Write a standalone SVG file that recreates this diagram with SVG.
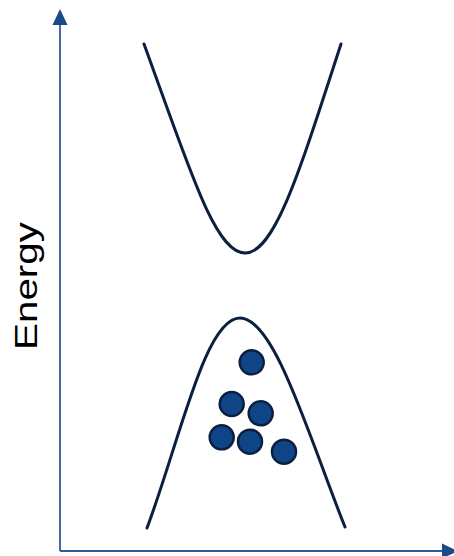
<svg xmlns="http://www.w3.org/2000/svg" width="454" height="556" viewBox="0 0 454 556">
<style>
.axis{stroke:#2F5A9A;stroke-width:1.8;fill:none}
.head{fill:#1A4A8A}
.band{stroke:#0B1F3F;stroke-width:3;fill:none;stroke-linecap:round}
.e{fill:#0F4487;stroke:#0B1F3F;stroke-width:2.5}
.lbl{font-family:"Liberation Sans",Arial,sans-serif;font-size:31px;fill:#000}
</style>
<rect width="454" height="556" fill="#fff"/>
<g id="connectors">
<line class="axis" x1="60" y1="551" x2="60" y2="22"/>
<polygon class="head" points="60,9 67.5,25 52.5,25"/>
<line class="axis" x1="60" y1="551" x2="445" y2="551"/>
<polygon class="head" points="458,551 442,543.5 442,558.5"/>
</g>
<g id="label">
<text class="lbl" transform="translate(37,286) rotate(-90)" text-anchor="middle" textLength="128" lengthAdjust="spacingAndGlyphs">Energy</text>
</g>
<g id="conduction-band">
<path class="band" d="M144,44 C190,170 215,253 245,253 C275,253 300,170 341,44"/>
</g>
<g id="valence-band">
<path class="band" d="M147,528 C180,440 205,318 240,318 C275,318 310,440 345,527"/>
</g>
<g id="electrons">
<circle class="e" cx="251.7" cy="362.3" r="12"/>
<circle class="e" cx="231.7" cy="404" r="12"/>
<circle class="e" cx="260.7" cy="413.3" r="12"/>
<circle class="e" cx="221.7" cy="437.3" r="12"/>
<circle class="e" cx="250" cy="441.7" r="12"/>
<circle class="e" cx="284" cy="451.7" r="12"/>
</g>
</svg>
